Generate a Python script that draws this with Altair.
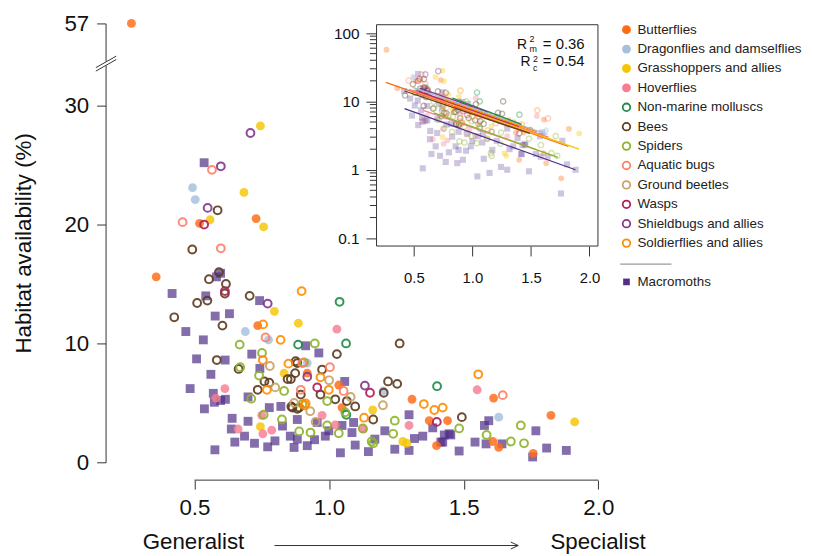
import altair as alt
import pandas as pd

FONT = "Liberation Sans"

groups = ["Butterflies", "Dragonflies and damselflies", "Grasshoppers and allies", "Hoverflies",
          "Non-marine molluscs", "Bees", "Spiders", "Aquatic bugs", "Ground beetles", "Wasps",
          "Shieldbugs and allies", "Soldierflies and allies", "Macromoths"]
colors = ["#FF6A13", "#A6BFDC", "#F5C500", "#F67C93", "#1E8B47", "#5E3A1C", "#8DB32B",
          "#FF7F66", "#C9A168", "#B01E55", "#83368A", "#FF8C00", "#4F2F87"]
kinds = ["filled"] * 4 + ["open"] * 8 + ["square"]
legend_rows = [0, 1, 2, 3, 4, 5, 6, 7, 8, 9, 10, 11, 13]

butterflies_x = [0.266, 0.358, 0.519, 0.729, 0.735, 0.919, 1.036, 1.048, 1.308, 1.372, 1.440, 1.399, 1.611, 1.608, 1.630, 1.758, 1.824]
butterflies_y = [57, 15.6, 20.1, 20.5, 11.5, 7.5, 6.5, 4.6, 5.3, 3.5, 3.5, 1.4, 5.4, 1.75, 1.25, 0.75, 3.95]
dragon_x = [0.493, 0.503, 0.689, 0.775, 0.919, 1.201, 1.630]
dragon_y = [23.1, 22.1, 11.0, 10.3, 8.35, 6.0, 3.8]
grass_x = [0.745, 0.684, 0.558, 0.757, 0.797, 0.886, 0.833, 1.162, 0.745, 1.274, 1.289, 1.912]
grass_y = [28.3, 22.7, 20.4, 19.8, 12.7, 11.7, 7.5, 4.4, 3.0, 1.75, 1.6, 3.4]
hover_x = [1.029, 0.613, 0.580, 0.662, 0.754, 0.787, 0.974, 1.023, 1.128, 1.297, 1.550, 0.750]
hover_y = [11.2, 6.2, 5.4, 2.8, 2.4, 2.7, 3.95, 3.15, 2.8, 3.1, 6.1, 3.95]
mollusc_x = [1.039, 0.885, 1.063, 1.064, 1.401]
mollusc_y = [13.5, 9.9, 10.0, 4.0, 6.4]
bees_x = [0.586, 0.492, 0.591, 0.554, 0.617, 0.613, 0.510, 0.548, 0.705, 0.425,
          0.604, 0.583, 0.664, 0.735, 0.760, 0.778, 0.882, 0.846, 0.874, 0.895,
          0.860, 0.882, 1.029, 1.262, 0.968, 1.023, 1.066, 1.097, 0.864, 0.858,
          0.974, 1.219, 1.253, 1.164, 1.493, 0.876, 0.889, 1.203]
bees_y = [21.2, 17.9, 16.0, 15.4, 15.0, 14.2, 13.4, 13.6, 14.0, 12.2,
          11.5, 8.6, 7.85, 6.1, 6.8, 6.7, 8.35, 7.0, 7.5, 5.7,
          4.7, 4.5, 9.1, 10.0, 5.7, 5.3, 5.15, 4.7, 4.6, 7.0,
          7.8, 6.8, 6.6, 3.6, 3.8, 8.5, 4.6, 5.85]
spiders_x = [0.668, 0.751, 0.670, 0.740, 0.711, 0.757, 0.825, 0.889, 0.931, 0.833,
             0.907, 0.947, 0.993, 0.901, 1.060, 0.993, 1.036, 1.125, 1.158, 1.164,
             1.244, 1.238, 1.483, 1.585, 1.675, 1.712, 1.724]
spiders_y = [9.9, 9.2, 8.0, 7.3, 5.35, 4.0, 3.6, 2.6, 2.5, 6.0,
             8.4, 10.0, 5.15, 4.9, 4.2, 3.1, 2.45, 2.85, 1.75, 1.6,
             3.5, 2.4, 2.85, 2.3, 1.75, 3.1, 1.6]
aquatic_x = [0.565, 0.456, 0.598, 0.764, 0.895, 0.901, 1.003, 1.054, 1.645]
aquatic_y = [24.6, 20.2, 18.0, 10.5, 6.1, 8.35, 8.0, 6.0, 5.65]
beetles_x = [0.80, 0.87, 0.93, 1.00, 1.08, 0.78, 0.95, 1.20]
beetles_y = [6.3, 5.0, 4.3, 6.9, 5.5, 8.1, 3.4, 4.8]
wasps_x = [0.536, 0.613, 0.956, 1.152, 1.400]
wasps_y = [20.0, 14.4, 6.3, 5.85, 3.4]
shield_x = [0.598, 0.549, 0.708, 0.919, 1.133, 0.772]
shield_y = [24.9, 21.4, 27.7, 7.2, 6.45, 13.35]
soldier_x = [0.898, 0.755, 0.820, 0.754, 0.769, 0.849, 0.909, 0.968, 0.999, 0.913, 1.130, 1.352, 1.391, 1.422, 1.554]
soldier_y = [14.4, 11.6, 10.3, 8.6, 6.1, 8.3, 4.8, 7.15, 6.1, 4.95, 3.75, 4.9, 4.4, 4.6, 7.4]
moths_x = [0.536, 0.597, 0.582, 0.417, 0.542, 0.742, 0.577, 0.630, 0.468, 0.533,
           0.913, 0.508, 0.614, 0.713, 0.561, 0.743, 0.484, 0.570, 0.597, 0.615,
           0.574, 0.537, 0.699, 0.778, 0.821, 0.640, 0.699, 0.637, 0.686, 0.650,
           0.723, 0.772, 0.799, 0.576, 0.827, 0.856, 0.882, 0.870, 0.919, 0.946,
           0.956, 0.999, 1.048, 1.085, 1.091, 0.882, 0.986, 1.042, 1.097, 1.146,
           1.170, 1.207, 1.244, 1.297, 1.297, 1.317, 1.348, 1.385, 1.446, 1.422,
           1.483, 1.058, 0.962, 1.593, 1.577, 1.452, 1.428, 1.415, 1.542, 1.583,
           1.642, 1.768, 1.808, 1.881, 1.756]
moths_y = [25.2, 15.9, 15.6, 14.2, 14.0, 13.6, 12.3, 12.5, 11.0, 10.3,
           9.8, 8.7, 8.6, 9.1, 7.4, 7.9, 6.2, 5.8, 5.2, 5.3,
           5.05, 4.5, 5.5, 4.6, 4.7, 3.7, 3.45, 2.8, 2.2, 1.7,
           1.6, 1.3, 1.8, 1.05, 3.05, 2.2, 1.95, 1.25, 1.4, 1.9,
           3.35, 2.65, 3.1, 2.5, 3.35, 3.6, 2.2, 0.8, 1.45, 0.9,
           1.95, 2.65, 1.1, 1.0, 4.0, 2.0, 2.2, 2.9, 2.4, 1.7,
           0.95, 6.8, 9.2, 3.5, 3.1, 2.3, 2.3, 1.7, 1.7, 1.55,
           1.55, 2.65, 1.2, 1.0, 0.45]

group_x = [butterflies_x, dragon_x, grass_x, hover_x, mollusc_x, bees_x, spiders_x,
           aquatic_x, beetles_x, wasps_x, shield_x, soldier_x, moths_x]
group_y = [butterflies_y, dragon_y, grass_y, hover_y, mollusc_y, bees_y, spiders_y,
           aquatic_y, beetles_y, wasps_y, shield_y, soldier_y, moths_y]

# fitted lines in the inset (start / end)
line_x1 = [0.26, 0.49, 0.56, 0.58, 0.83, 0.42, 0.67, 0.46, 0.76, 0.54, 0.55, 0.75, 0.42]
line_y1 = [19.0, 16.0, 13.2, 7.4, 11.2, 14.2, 6.8, 15.0, 10.5, 14.0, 15.6, 10.8, 7.85]
line_x2 = [1.82, 1.64, 1.91, 1.55, 1.42, 1.49, 1.73, 1.65, 1.30, 1.40, 1.13, 1.55, 1.88]
line_y2 = [2.2, 3.3, 2.0, 1.95, 4.6, 3.4, 1.52, 3.0, 4.8, 4.3, 7.0, 3.6, 1.0]

minor_ticks = [0.2, 0.3, 0.4, 0.5, 0.6, 0.7, 0.8, 0.9, 2, 3, 4, 5, 6, 7, 8, 9,
               20, 30, 40, 50, 60, 70, 80, 90]

rows = []
for g, k, xs, ys in zip(groups, kinds, group_x, group_y):
    for xv, yv in zip(xs, ys):
        rows.append({"group": g, "kind": k, "x": xv, "y": yv})
pts = pd.DataFrame(rows)
lines = pd.DataFrame({"group": groups, "x": line_x1, "y": line_y1, "x2": line_x2, "y2": line_y2})
leg = pd.DataFrame({"group": groups, "kind": kinds, "row": legend_rows})
one = pd.DataFrame({"a": [0]})

W, H = 511, 443
INX0, INX1, INY0, INY1 = 273.5, 497, 1.3, 224.7

color_enc = alt.Color("group:N", scale=alt.Scale(domain=groups, range=colors), legend=None)

# ---------------- main panel ----------------
main_x = alt.X("x:Q", scale=alt.Scale(domain=[0.17, 2.05], nice=False, zero=False),
               axis=alt.Axis(orient="bottom", values=[0.5, 1.0, 1.5, 2.0], format=".1f", domain=False,
                             tickSize=9, labelPadding=8, labelFontSize=22.5, offset=18, title=None,
                             grid=False, labelFlush=False))
main_y = alt.Y("y:Q", scale=alt.Scale(domain=[0, 33.5, 57], range=[H, 41, 0], nice=False, zero=False),
               axis=alt.Axis(orient="left", values=[0, 10, 20, 30, 57], domain=True, tickSize=9,
                             labelPadding=8, labelFontSize=22.5, title=None, grid=False, labelFlush=False))

base = alt.Chart(pts)
m_sq = base.transform_filter(alt.datum.kind == "square").mark_square(size=80, opacity=0.7).encode(
    x=main_x, y=main_y, color=color_enc)
m_fill = base.transform_filter(alt.datum.kind == "filled").mark_circle(size=80, opacity=0.82).encode(
    x=main_x, y=main_y, color=color_enc)
m_open = base.transform_filter(alt.datum.kind == "open").mark_point(
    shape="circle", filled=False, size=62, strokeWidth=2, opacity=0.9).encode(
    x=main_x, y=main_y, color=color_enc)
x_line = alt.Chart(pd.DataFrame({"x": [0.5], "x2": [2.0]})).mark_rule(color="#333", strokeWidth=1).encode(
    x=main_x, x2=alt.X2("x2"), y=alt.value(H + 18))

deco = alt.Chart(one)
brk_white = deco.mark_rule(color="white", strokeWidth=4).encode(
    x=alt.value(-9.8), x2=alt.value(10.8), y=alt.value(46.35), y2=alt.value(34.7))
brk1 = deco.mark_rule(color="#333", strokeWidth=1).encode(
    x=alt.value(-9.8), x2=alt.value(10.8), y=alt.value(44.6), y2=alt.value(33))
brk2 = deco.mark_rule(color="#333", strokeWidth=1).encode(
    x=alt.value(-9.8), x2=alt.value(10.8), y=alt.value(48.1), y2=alt.value(36.4))
y_title = deco.mark_text(text="Habitat availability (%)", angle=270, fontSize=22.5, align="center",
                         baseline="alphabetic", color="#111").encode(x=alt.value(-75), y=alt.value(222))
gen_txt = deco.mark_text(text="Generalist", fontSize=22.5, align="left", baseline="alphabetic",
                         color="#111").encode(x=alt.value(37.5), y=alt.value(531))
spec_txt = deco.mark_text(text="Specialist", fontSize=22.5, align="left", baseline="alphabetic",
                          color="#111").encode(x=alt.value(449), y=alt.value(531))
arrow = deco.mark_rule(color="#333", strokeWidth=1).encode(
    x=alt.value(170.5), x2=alt.value(416.5), y=alt.value(527), y2=alt.value(527))
arrow_a = deco.mark_rule(color="#333", strokeWidth=1).encode(
    x=alt.value(409), x2=alt.value(416.5), y=alt.value(523.5), y2=alt.value(527))
arrow_b = deco.mark_rule(color="#333", strokeWidth=1).encode(
    x=alt.value(409), x2=alt.value(416.5), y=alt.value(530.5), y2=alt.value(527))

main_group = alt.layer(m_sq, m_fill, m_open, x_line, brk_white, brk1, brk2, y_title,
                       gen_txt, spec_txt, arrow, arrow_a, arrow_b)

# ---------------- inset ----------------
in_x = alt.X("x:Q", scale=alt.Scale(domain=[0.181, 2.072], range=[INX0, INX1], nice=False, zero=False),
             axis=alt.Axis(orient="bottom", offset=-(H - INY1), values=[0.5, 1.0, 1.5, 2.0], format=".1f",
                           domain=False, tickSize=10, labelPadding=15, labelFontSize=15, title=None,
                           grid=False, labelFlush=False))
in_y = alt.Y("y:Q", scale=alt.Scale(type="log", domain=[0.0766, 132.4], range=[INY1, INY0], nice=False),
             axis=alt.Axis(orient="left", offset=-INX0, values=[0.1, 1, 10, 100],
                           labelExpr="datum.value >= 50 ? '100' : datum.value >= 5 ? '10' : datum.value >= 0.5 ? '1' : '0.1'",
                           domain=False, tickSize=10.7, labelPadding=7, labelFontSize=15.5, title=None,
                           grid=False, labelFlush=False, labelOverlap=False))

frame = deco.mark_rect(fill="white", stroke="#333", strokeWidth=1).encode(
    x=alt.value(INX0), x2=alt.value(INX1), y=alt.value(INY0), y2=alt.value(INY1))
i_sq = base.transform_filter(alt.datum.kind == "square").mark_square(size=38, opacity=0.28).encode(
    x=in_x, y=in_y, color=color_enc)
i_fill = base.transform_filter(alt.datum.kind == "filled").mark_circle(size=34, opacity=0.35).encode(
    x=in_x, y=in_y, color=color_enc)
i_open = base.transform_filter(alt.datum.kind == "open").mark_point(
    shape="circle", filled=False, size=28, strokeWidth=1.4, opacity=0.38).encode(
    x=in_x, y=in_y, color=color_enc)
minor = alt.Chart(pd.DataFrame({"y": minor_ticks})).mark_rule(color="#333", strokeWidth=1).encode(
    y=in_y, x=alt.value(INX0 - 6.7), x2=alt.value(INX0))
fits = alt.Chart(lines).mark_rule(strokeWidth=1.3).encode(
    x=in_x, y=in_y, x2=alt.X2("x2"), y2=alt.Y2("y2"), color=color_enc)

r1 = deco.mark_text(text="R", fontSize=14, align="left", baseline="alphabetic", color="#111").encode(
    x=alt.value(415.3), y=alt.value(25.5))
r1s = deco.mark_text(text="2", fontSize=9, align="left", baseline="alphabetic", color="#111").encode(
    x=alt.value(428), y=alt.value(18.5))
r1b = deco.mark_text(text="m", fontSize=9, align="left", baseline="alphabetic", color="#111").encode(
    x=alt.value(428), y=alt.value(28.5))
r1t = deco.mark_text(text="= 0.36", fontSize=15, align="right", baseline="alphabetic", color="#111").encode(
    x=alt.value(483.5), y=alt.value(25.5))
r2 = deco.mark_text(text="R", fontSize=14, align="left", baseline="alphabetic", color="#111").encode(
    x=alt.value(418.7), y=alt.value(43))
r2s = deco.mark_text(text="2", fontSize=9, align="left", baseline="alphabetic", color="#111").encode(
    x=alt.value(431.5), y=alt.value(38.5))
r2b = deco.mark_text(text="c", fontSize=9, align="left", baseline="alphabetic", color="#111").encode(
    x=alt.value(431.5), y=alt.value(48.5))
r2t = deco.mark_text(text="= 0.54", fontSize=15, align="right", baseline="alphabetic", color="#111").encode(
    x=alt.value(483.5), y=alt.value(43))

inset_group = alt.layer(frame, i_sq, i_fill, i_open, minor, fits, r1, r1s, r1b, r1t, r2, r2s, r2b, r2t)

# ---------------- legend ----------------
leg_y = alt.Y("row:Q", scale=alt.Scale(domain=[0, 13], range=[6.3, 260.9], nice=False, zero=False), axis=None)
lbase = alt.Chart(leg)
l_fill = lbase.transform_filter(alt.datum.kind == "filled").mark_circle(size=80, opacity=1).encode(
    x=alt.value(525.8), y=leg_y, color=color_enc)
l_open = lbase.transform_filter(alt.datum.kind == "open").mark_point(
    shape="circle", filled=False, size=58, strokeWidth=1.8, opacity=1).encode(
    x=alt.value(525.8), y=leg_y, color=color_enc)
l_sq = lbase.transform_filter(alt.datum.kind == "square").mark_square(size=45, opacity=1).encode(
    x=alt.value(525.8), y=leg_y, color=color_enc)
l_txt = lbase.mark_text(align="left", baseline="middle", fontSize=13.5, color="#222").encode(
    x=alt.value(536.8), y=leg_y, text="group:N")
sep = deco.mark_rule(color="#9a9a9a", strokeWidth=1.2).encode(
    x=alt.value(519.5), x2=alt.value(571.2), y=alt.value(243))

legend_group = alt.layer(l_fill, l_open, l_sq, l_txt, sep)

chart = alt.layer(main_group, inset_group, legend_group).resolve_scale(
    x="independent", y="independent"
).properties(
    width=W, height=H,
    padding={"left": 98.5, "top": 13, "right": 195, "bottom": 92},
    autosize=alt.AutoSizeParams(type="none"),
).configure(font=FONT).configure_view(strokeWidth=0).configure_axis(
    tickColor="#333", domainColor="#333", labelColor="#111", labelFont=FONT
)

chart.save("out.html", embed_options={"renderer": "svg", "actions": False})
